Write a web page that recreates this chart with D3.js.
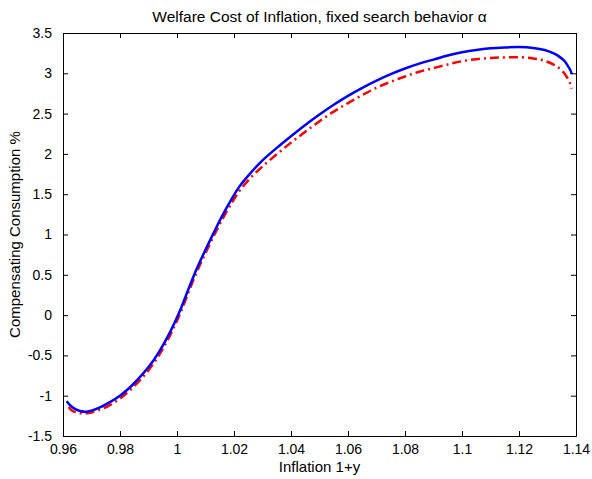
<!DOCTYPE html>
<html>
<head>
<meta charset="utf-8">
<script src="https://cdn.jsdelivr.net/npm/d3@7"></script>
<style>
  body { margin: 0; background: #fff; }
  text { font-family: "Liberation Sans", Arial, sans-serif; fill: #000; }
</style>
</head>
<body>
<svg id="chart" width="592" height="479"></svg>
<script>
const title = "Welfare Cost of Inflation, fixed search behavior \u03b1";
const xLabel = "Inflation 1+y";
const yLabel = "Compensating Consumption %";
const xTicks = [0.96, 0.98, 1.0, 1.02, 1.04, 1.06, 1.08, 1.1, 1.12, 1.14];
const xTickLabels = ["0.96", "0.98", "1", "1.02", "1.04", "1.06", "1.08", "1.1", "1.12", "1.14"];
const yTicks = [-1.5, -1, -0.5, 0, 0.5, 1, 1.5, 2, 2.5, 3, 3.5];
const yTickLabels = ["-1.5", "-1", "-0.5", "0", "0.5", "1", "1.5", "2", "2.5", "3", "3.5"];

const blueX = [0.9613, 0.962, 0.963, 0.9645, 0.966, 0.968, 0.970, 0.973, 0.976, 0.980, 0.984, 0.988, 0.992, 0.995, 0.998, 1.001, 1.004, 1.007, 1.010, 1.013, 1.016, 1.019, 1.022, 1.026, 1.030, 1.035, 1.040, 1.045, 1.050, 1.055, 1.060, 1.065, 1.070, 1.075, 1.080, 1.085, 1.090, 1.095, 1.100, 1.105, 1.110, 1.115, 1.120, 1.125, 1.129, 1.132, 1.134, 1.136, 1.137, 1.138, 1.1385];
const blueY = [-1.07, -1.10, -1.135, -1.17, -1.19, -1.20, -1.185, -1.145, -1.09, -1.00, -0.88, -0.73, -0.55, -0.38, -0.18, 0.05, 0.32, 0.58, 0.81, 1.03, 1.24, 1.43, 1.60, 1.77, 1.92, 2.075, 2.22, 2.36, 2.49, 2.61, 2.72, 2.82, 2.91, 2.99, 3.06, 3.12, 3.17, 3.22, 3.26, 3.29, 3.31, 3.32, 3.325, 3.315, 3.29, 3.25, 3.21, 3.15, 3.10, 3.04, 2.99];

const redX = [0.962, 0.963, 0.965, 0.967, 0.969, 0.972, 0.976, 0.980, 0.984, 0.988, 0.992, 0.995, 0.998, 1.001, 1.004, 1.007, 1.010, 1.013, 1.016, 1.019, 1.022, 1.026, 1.030, 1.035, 1.040, 1.045, 1.050, 1.055, 1.060, 1.065, 1.070, 1.075, 1.080, 1.085, 1.090, 1.095, 1.100, 1.105, 1.110, 1.115, 1.120, 1.125, 1.129, 1.132, 1.134, 1.136, 1.137, 1.138, 1.1385];
const redY = [-1.14, -1.18, -1.21, -1.22, -1.215, -1.185, -1.125, -1.035, -0.915, -0.77, -0.59, -0.42, -0.22, 0.01, 0.28, 0.54, 0.77, 0.99, 1.195, 1.38, 1.545, 1.71, 1.845, 1.995, 2.14, 2.275, 2.405, 2.525, 2.63, 2.73, 2.82, 2.895, 2.96, 3.02, 3.065, 3.11, 3.15, 3.175, 3.19, 3.197, 3.20, 3.185, 3.155, 3.11, 3.065, 2.995, 2.94, 2.87, 2.81];

const svg = d3.select("#chart");
const L = 63, R = 576, T = 33, B = 436;
const x = d3.scaleLinear().domain([0.96, 1.14]).range([L, R]);
const y = d3.scaleLinear().domain([-1.5, 3.5]).range([B, T]);

const g = svg.append("g");
const line = d3.line().x(d => x(d[0])).y(d => y(d[1])).curve(d3.curveCatmullRom.alpha(0.5));

const redData = redX.map((v, i) => [v, redY[i]]);
const blueData = blueX.map((v, i) => [v, blueY[i]]);

g.append("path").datum(redData)
  .attr("d", line).attr("fill", "none").attr("stroke", "#ff0000")
  .attr("stroke-width", 2.5).attr("stroke-dasharray", "9,4,2,4");

g.append("path").datum(blueData)
  .attr("d", line).attr("fill", "none").attr("stroke", "#0000ff")
  .attr("stroke-width", 2.5);

const tickLen = 5;
const fmtX = (d, i) => xTickLabels[i];
const fmtY = (d, i) => yTickLabels[i];

const axB = d3.axisBottom(x).tickValues(xTicks).tickFormat(fmtX).tickSizeInner(-tickLen).tickSizeOuter(0).tickPadding(8);
const axT = d3.axisTop(x).tickValues(xTicks).tickFormat("").tickSizeInner(-tickLen).tickSizeOuter(0);
const axL = d3.axisLeft(y).tickValues(yTicks).tickFormat(fmtY).tickSizeInner(-tickLen).tickSizeOuter(0).tickPadding(11);
const axR = d3.axisRight(y).tickValues(yTicks).tickFormat("").tickSizeInner(-tickLen).tickSizeOuter(0);

function style(sel) {
  sel.selectAll("path.domain").attr("stroke", "#000").attr("stroke-width", 1);
  sel.selectAll(".tick line").attr("stroke", "#000").attr("stroke-width", 1);
  sel.selectAll(".tick text").style("font-family", "'Liberation Sans', Arial, sans-serif").style("font-size", "14px").attr("fill", "#000");
}
style(svg.append("g").attr("transform", `translate(0,${B})`).call(axB));
style(svg.append("g").attr("transform", `translate(0,${T})`).call(axT));
style(svg.append("g").attr("transform", `translate(${L},0)`).call(axL));
style(svg.append("g").attr("transform", `translate(${R},0)`).call(axR));

svg.append("text").attr("x", (L + R) / 2).attr("y", 22).attr("text-anchor", "middle")
  .style("font-size", "15.5px").text(title);
svg.append("text").attr("x", (L + R) / 2).attr("y", 472).attr("text-anchor", "middle")
  .style("font-size", "15px").text(xLabel);
svg.append("text").attr("transform", `translate(20,${(T + B) / 2}) rotate(-90)`).attr("text-anchor", "middle")
  .style("font-size", "15px").text(yLabel);
</script>
</body>
</html>
